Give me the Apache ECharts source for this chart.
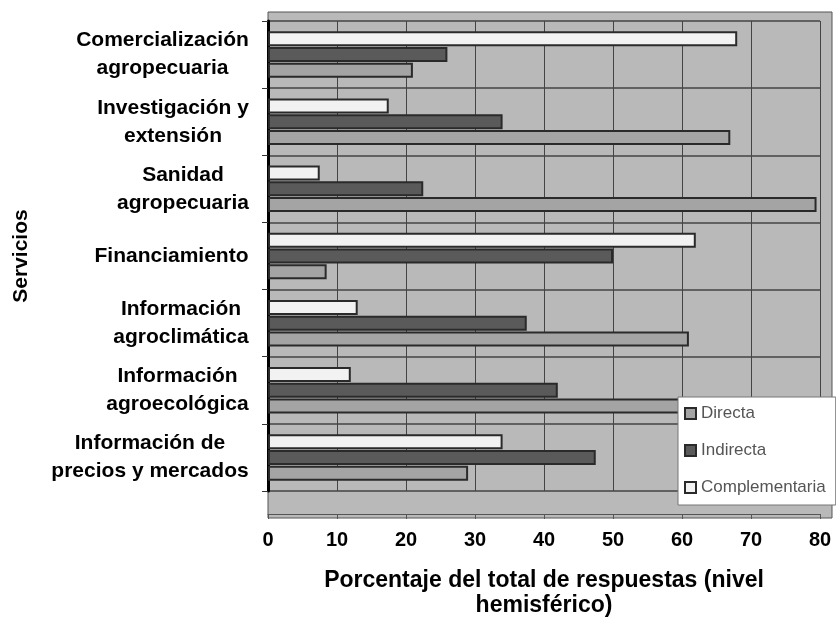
<!DOCTYPE html>
<html>
<head>
<meta charset="utf-8">
<script src="https://cdn.jsdelivr.net/npm/echarts@6/dist/echarts.min.js"></script>
<style>html,body{margin:0;padding:0;background:#fff;}#c{width:836px;height:623px;}</style>
</head>
<body>
<div id="c"></div>
<script>
const categories = ['Comercialización\nagropecuaria', 'Investigación y\nextensión', 'Sanidad\nagropecuaria', 'Financiamiento', 'Información\nagroclimática', 'Información\nagroecológica', 'Información de\nprecios y mercados'];
const seriesNames = ['Directa', 'Indirecta', 'Complementaria'];
const directa = [21, 67, 79.5, 8.5, 61, 62, 29];
const indirecta = [26, 34, 22.5, 50, 37.5, 42, 47.5];
const complementaria = [68, 17.5, 7.5, 62, 13, 12, 34];
const xTicks = [0, 10, 20, 30, 40, 50, 60, 70, 80];

const FONT = '"Liberation Sans", Arial, Helvetica, sans-serif';
const cv = document.createElement('canvas').getContext('2d');
cv.font = 'bold 21px ' + FONT;
const rich = {};
categories.forEach((c, i) => {
  const w = Math.max(...c.split('\n').map(s => cv.measureText(s).width));
  rich['r' + i] = { width: Math.ceil(w) + 2, align: 'center', fontSize: 21, fontWeight: 'bold', fontFamily: FONT, color: '#000', lineHeight: 28 };
});

const chart = echarts.init(document.getElementById('c'));
const barBase = { type: 'bar', barWidth: 15, barGap: '5%', barCategoryGap: '30%' };
chart.setOption({
  animation: false,
  graphic: [{ type: 'rect', z: -10, shape: { x: 268, y: 12, width: 564, height: 506 }, style: { fill: '#b9b9b9', stroke: '#555', lineWidth: 1 } }],
  grid: { left: 268, right: 16, top: 21, bottom: 128 },
  legend: {
    orient: 'vertical', left: 678, top: 397,
    data: seriesNames,
    icon: 'rect',
    itemWidth: 11, itemHeight: 11, itemGap: 20,
    backgroundColor: '#fff', borderColor: '#777', borderWidth: 1,
    padding: [8, 10, 9, 6],
    textStyle: { fontSize: 17, color: '#555', fontFamily: FONT }
  },
  xAxis: {
    type: 'value', min: xTicks[0], max: xTicks[xTicks.length - 1], interval: 10,
    offset: 23,
    axisLine: { show: true, lineStyle: { color: '#555', width: 1 } },
    axisTick: { show: true, length: 5, lineStyle: { color: '#555' } },
    axisLabel: { fontSize: 20, fontWeight: 'bold', color: '#000', fontFamily: FONT, margin: 16 },
    splitLine: { show: true, lineStyle: { color: '#444', width: 1 } },
    name: 'Porcentaje del total de respuestas (nivel\nhemisférico)',
    nameLocation: 'middle', nameGap: 54,
    nameTextStyle: { fontSize: 23, fontWeight: 'bold', color: '#000', fontFamily: FONT, lineHeight: 25 }
  },
  yAxis: {
    type: 'category', data: categories, inverse: true,
    axisLine: { show: true, lineStyle: { color: '#000', width: 3 } },
    axisTick: { show: true, length: 6, lineStyle: { color: '#333' } },
    axisLabel: {
      margin: 18,
      formatter: (v, i) => v.split('\n').map(s => '{r' + i + '|' + s + '}').join('\n'),
      rich: rich
    },
    splitLine: { show: true, lineStyle: { color: '#444', width: 1.5 } },
    name: 'Servicios', nameLocation: 'middle', nameGap: 236,
    nameTextStyle: { fontSize: 21, fontWeight: 'bold', color: '#000', fontFamily: FONT }
  },
  series: [
    Object.assign({}, barBase, { name: 'Complementaria', data: complementaria, itemStyle: { color: '#f2f2f2', borderColor: '#2a2a2a', borderWidth: 2 } }),
    Object.assign({}, barBase, { name: 'Indirecta', data: indirecta, itemStyle: { color: '#5a5a5a', borderColor: '#2a2a2a', borderWidth: 2 } }),
    Object.assign({}, barBase, { name: 'Directa', data: directa, itemStyle: { color: '#a4a4a4', borderColor: '#2a2a2a', borderWidth: 2 } })
  ]
});
</script>
</body>
</html>
